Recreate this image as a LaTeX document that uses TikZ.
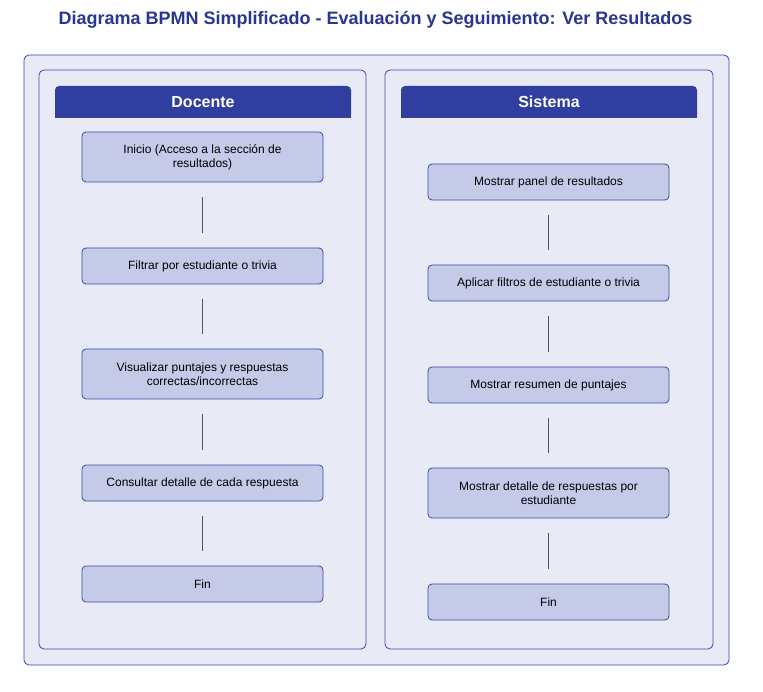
\documentclass[tikz,border=0pt]{standalone}
\usepackage{fontspec}
\setmainfont{Liberation Sans}
\usepackage{tikz}
\definecolor{poolbg}{HTML}{E8EAF6}
\definecolor{taskbg}{HTML}{C5CAE9}
\definecolor{headblue}{HTML}{303F9F}
\definecolor{titleblue}{HTML}{283593}
\definecolor{edgeblue}{HTML}{3949AB}
\definecolor{linkgray}{HTML}{555555}
\tikzstyle{pool} = [rectangle, rounded corners=5pt, minimum width=705pt, minimum height=610pt, inner sep=0pt, outer sep=0pt, draw=edgeblue, line width=0.8pt, fill=poolbg]
\tikzstyle{lane} = [rectangle, rounded corners=5pt, minimum height=579pt, inner sep=0pt, outer sep=0pt, draw=edgeblue, line width=0.8pt, fill=poolbg]
\tikzstyle{lanehead} = [rectangle, minimum width=296pt, minimum height=32pt, inner sep=0pt, fill=headblue, text=white, font=\fontsize{16pt}{18pt}\selectfont\bfseries]
\tikzstyle{task} = [rectangle, rounded corners=4pt, minimum width=241pt, inner sep=0pt, text centered, align=center, draw=edgeblue, line width=0.8pt, fill=taskbg, font=\fontsize{12pt}{14pt}\selectfont]
\tikzstyle{link} = [linkgray, line width=0.9pt, shorten >=14.5pt, shorten <=14.5pt]

\begin{document}
\begin{tikzpicture}[x=1pt,y=-1pt]
                 \useasboundingbox (0,0) rectangle (763,692);
                 \node [font=\fontsize{18pt}{21pt}\selectfont\bfseries, text=titleblue] at (375.5,19.5) (title) {Diagrama BPMN Simplificado - Evaluación y Seguimiento: Ver Resultados};
                 \node [pool] at (376.5,360) (pool) {};
                 % carriles
                 \node [lane, minimum width=327pt] at (202.5,359.5) (lanedoc) {};
                 \node [lane, minimum width=328pt] at (549,359.5) (lanesis) {};
                 \node [lanehead, rounded corners=4pt] at (203,102) (headdoc) {};
                 \fill [headblue] (headdoc.west) rectangle (headdoc.south east);
                 \node [lanehead, fill=none] at (203,102) {Docente};
                 \node [lanehead, rounded corners=4pt] at (549,102) (headsis) {};
                 \fill [headblue] (headsis.west) rectangle (headsis.south east);
                 \node [lanehead, fill=none] at (549,102) {Sistema};
                 % Docente
                 \node [task, minimum height=50pt] at (202.5,157) (inicio) {Inicio (Acceso a la sección de\\resultados)};
                 \node [task, minimum height=36pt] at (202.5,266) (filtrar) {Filtrar por estudiante o trivia};
                 \node [task, minimum height=50pt] at (202.5,374) (visualizar) {Visualizar puntajes y respuestas\\correctas/incorrectas};
                 \node [task, minimum height=36pt] at (202.5,483) (consultar) {Consultar detalle de cada respuesta};
                 \node [task, minimum height=36pt] at (202.5,584) (findoc) {Fin};
                 % Sistema
                 \node [task, minimum height=36pt] at (548.5,182) (panel) {Mostrar panel de resultados};
                 \node [task, minimum height=36pt] at (548.5,283) (filtros) {Aplicar filtros de estudiante o trivia};
                 \node [task, minimum height=36pt] at (548.5,385) (resumen) {Mostrar resumen de puntajes};
                 \node [task, minimum height=50pt] at (548.5,493) (detalle) {Mostrar detalle de respuestas por\\estudiante};
                 \node [task, minimum height=36pt] at (548.5,602) (finsis) {Fin};
                 \draw [link] (inicio) -- (filtrar);
                 \draw [link] (filtrar) -- (visualizar);
                 \draw [link] (visualizar) -- (consultar);
                 \draw [link] (consultar) -- (findoc);
                 \draw [link] (panel) -- (filtros);
                 \draw [link] (filtros) -- (resumen);
                 \draw [link] (resumen) -- (detalle);
                 \draw [link] (detalle) -- (finsis);
                 \end{tikzpicture}
\end{document}
